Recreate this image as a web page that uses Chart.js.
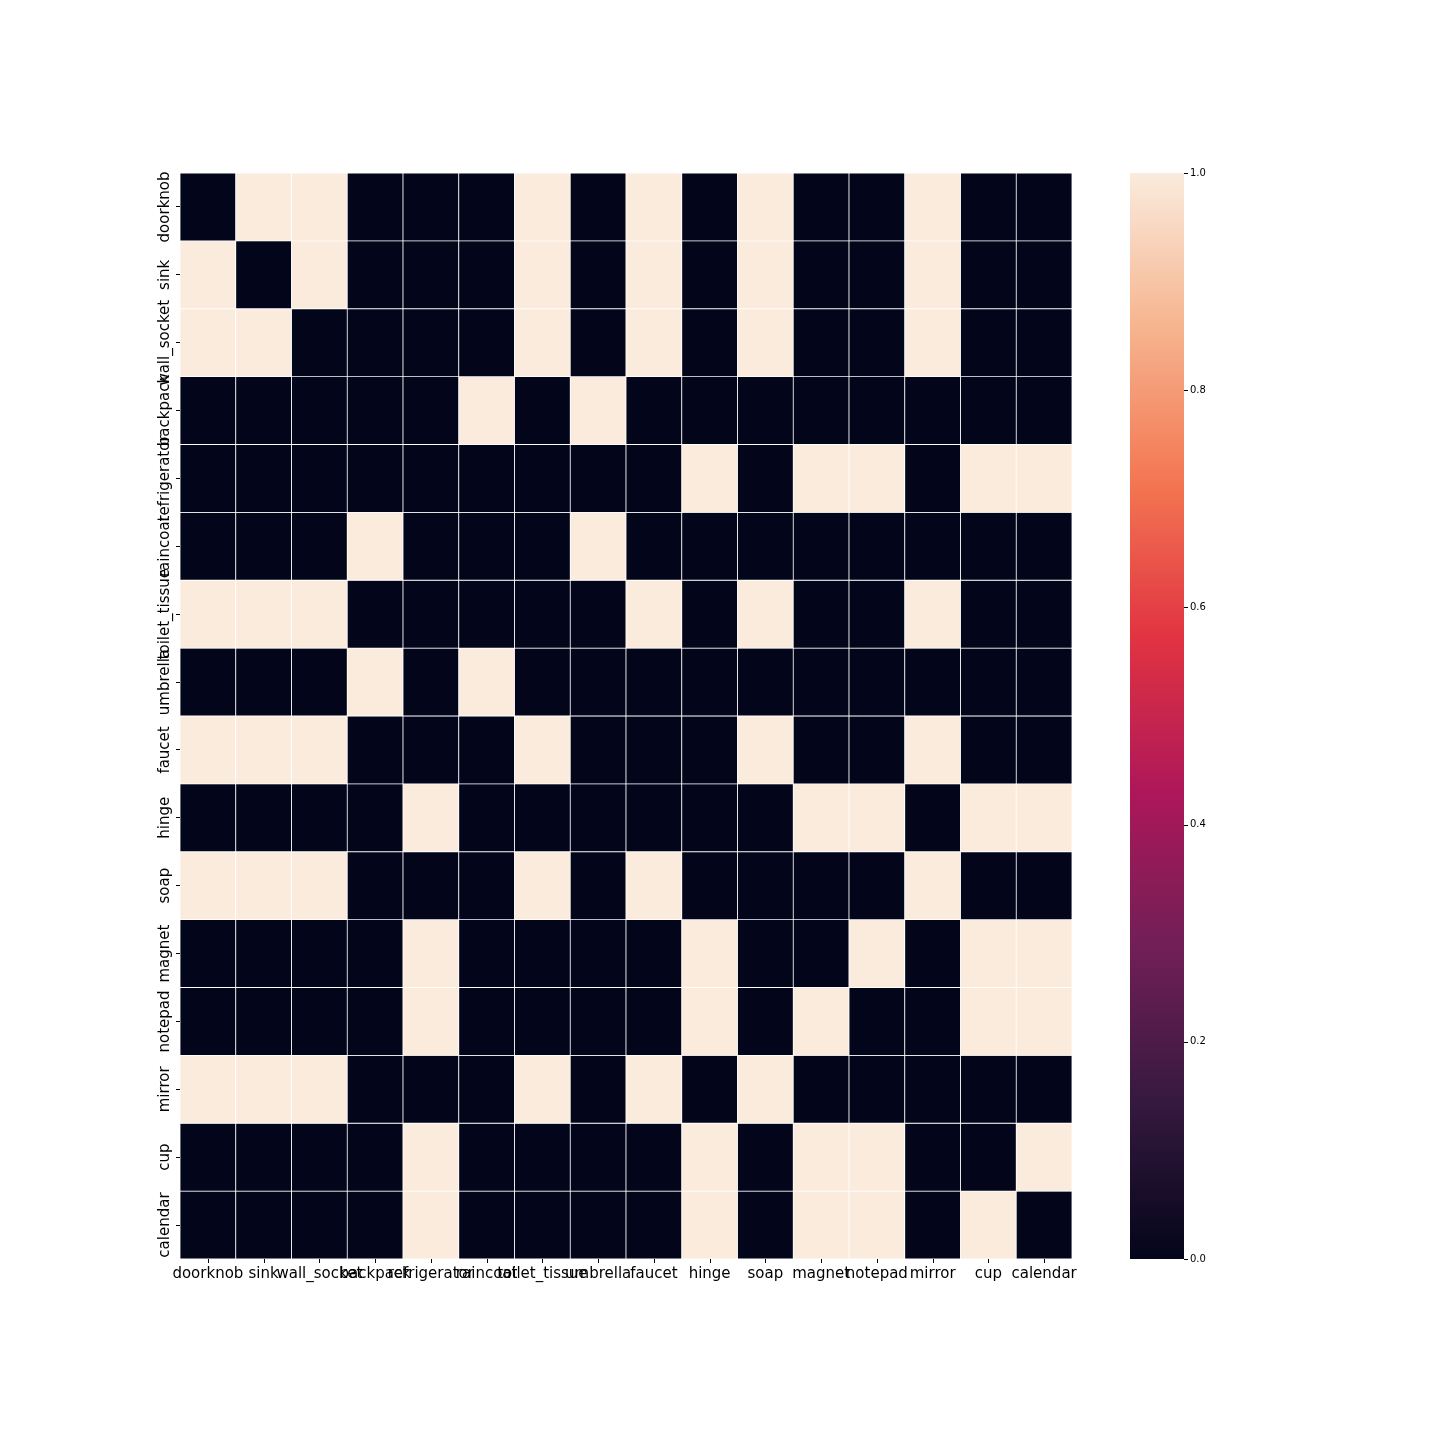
<!DOCTYPE html>
<html>
<head>
<meta charset="utf-8">
<script src="https://cdn.jsdelivr.net/npm/chart.js@4/dist/chart.umd.min.js"></script>
<style>
html,body{margin:0;padding:0;background:#fff;}
canvas{display:block;}
</style>
</head>
<body>
<canvas id="c" width="1440" height="1440"></canvas>
<script>
const categories = ["doorknob","sink","wall_socket","backpack","refrigerator","raincoat","toilet_tissue","umbrella","faucet","hinge","soap","magnet","notepad","mirror","cup","calendar"];

const rows = [
  [0,1,1,0,0,0,1,0,1,0,1,0,0,1,0,0], // doorknob
  [1,0,1,0,0,0,1,0,1,0,1,0,0,1,0,0], // sink
  [1,1,0,0,0,0,1,0,1,0,1,0,0,1,0,0], // wall_socket
  [0,0,0,0,0,1,0,1,0,0,0,0,0,0,0,0], // backpack
  [0,0,0,0,0,0,0,0,0,1,0,1,1,0,1,1], // refrigerator
  [0,0,0,1,0,0,0,1,0,0,0,0,0,0,0,0], // raincoat
  [1,1,1,0,0,0,0,0,1,0,1,0,0,1,0,0], // toilet_tissue
  [0,0,0,1,0,1,0,0,0,0,0,0,0,0,0,0], // umbrella
  [1,1,1,0,0,0,1,0,0,0,1,0,0,1,0,0], // faucet
  [0,0,0,0,1,0,0,0,0,0,0,1,1,0,1,1], // hinge
  [1,1,1,0,0,0,1,0,1,0,0,0,0,1,0,0], // soap
  [0,0,0,0,1,0,0,0,0,1,0,0,1,0,1,1], // magnet
  [0,0,0,0,1,0,0,0,0,1,0,1,0,0,1,1], // notepad
  [1,1,1,0,0,0,1,0,1,0,1,0,0,0,0,0], // mirror
  [0,0,0,0,1,0,0,0,0,1,0,1,1,0,0,1], // cup
  [0,0,0,0,1,0,0,0,0,1,0,1,1,0,1,0]  // calendar
];

const cbarTicks = [0, 0.2, 0.4, 0.6, 0.8, 1.0];

// rocket colormap stops
const rocketStops = [
  [0, "#03051a"], [1/7, "#35193e"], [2/7, "#701f57"], [3/7, "#ad1759"],
  [4/7, "#e13342"], [5/7, "#f37651"], [6/7, "#f6b48f"], [1, "#faebdd"]
];
function hexToRgb(h){return [parseInt(h.slice(1,3),16),parseInt(h.slice(3,5),16),parseInt(h.slice(5,7),16)];}
function rocket(v){
  v = Math.max(0, Math.min(1, v));
  for (let i = 0; i < rocketStops.length - 1; i++) {
    const [p0, c0] = rocketStops[i], [p1, c1] = rocketStops[i+1];
    if (v <= p1) {
      const t = (v - p0) / (p1 - p0);
      const a = hexToRgb(c0), b = hexToRgb(c1);
      return `rgb(${Math.round(a[0]+(b[0]-a[0])*t)},${Math.round(a[1]+(b[1]-a[1])*t)},${Math.round(a[2]+(b[2]-a[2])*t)})`;
    }
  }
  return rocketStops[rocketStops.length-1][1];
}

const FONT = "'DejaVu Sans', sans-serif";

const datasets = rows.map((r, j) => ({
  label: categories[j],
  data: categories.map(() => [j, j + 1]),
  backgroundColor: r.map(v => rocket(v)),
  borderColor: "#ffffff",
  borderWidth: 0.75,
  borderSkipped: false,
  barPercentage: 1,
  categoryPercentage: 1,
  grouped: false
}));

const extras = {
  id: "extras",
  afterDraw(chart) {
    const ctx = chart.ctx;
    const x = chart.scales.x;
    const y = chart.scales.y;
    const y2 = chart.scales.y2;
    const area = chart.chartArea;
    // y labels (rotated)
    ctx.save();
    ctx.fillStyle = "#000";
    ctx.font = "15px " + FONT;
    ctx.textAlign = "center";
    ctx.textBaseline = "middle";
    categories.forEach((c, i) => {
      ctx.save();
      ctx.translate(165, y.getPixelForValue(i + 0.5));
      ctx.rotate(-Math.PI / 2);
      ctx.fillText(c, 0, 0);
      ctx.restore();
    });
    ctx.restore();
    // x tick marks
    ctx.save();
    ctx.strokeStyle = "#000";
    ctx.lineWidth = 1;
    categories.forEach((c, i) => {
      const px = Math.round(x.getPixelForValue(i)) + 0.5;
      ctx.beginPath();
      ctx.moveTo(px, area.bottom);
      ctx.lineTo(px, area.bottom + 4);
      ctx.stroke();
    });
    ctx.restore();
    // colorbar
    const x0 = 1130, x1 = 1184;
    const top = y2.getPixelForValue(1), bot = y2.getPixelForValue(0);
    const g = ctx.createLinearGradient(0, bot, 0, top);
    rocketStops.forEach(([p, c]) => g.addColorStop(p, c));
    ctx.save();
    ctx.fillStyle = g;
    ctx.fillRect(x0, top, x1 - x0, bot - top);
    ctx.strokeStyle = "#000";
    ctx.lineWidth = 1;
    cbarTicks.forEach(v => {
      const py = Math.round(y2.getPixelForValue(v)) + 0.5;
      ctx.beginPath();
      ctx.moveTo(x1, py);
      ctx.lineTo(x1 + 4, py);
      ctx.stroke();
    });
    ctx.restore();
  }
};

new Chart(document.getElementById("c"), {
  type: "bar",
  data: { labels: categories, datasets },
  plugins: [extras],
  options: {
    responsive: false,
    animation: false,
    devicePixelRatio: 1,
    layout: { padding: { left: 120, right: 168, top: 173, bottom: 141 } },
    plugins: { legend: { display: false }, tooltip: { enabled: false } },
    scales: {
      x: {
        type: "category",
        offset: true,
        grid: { display: false, drawTicks: false },
        border: { display: false },
        ticks: { color: "#000", font: { family: FONT, size: 15 }, padding: 6, maxRotation: 0, minRotation: 0, autoSkip: false },
        afterFit: s => { s.height = 40; }
      },
      y: {
        type: "linear",
        min: 0, max: 16,
        reverse: true,
        position: "left",
        afterBuildTicks: s => { s.ticks = categories.map((c, i) => ({ value: i + 0.5 })); },
        grid: { display: true, drawOnChartArea: false, drawTicks: true, tickLength: 4, color: "#000" },
        border: { display: false },
        ticks: { display: false },
        afterFit: s => { s.width = 60; }
      },
      y2: {
        type: "linear",
        min: 0, max: 1,
        position: "right",
        afterBuildTicks: s => { s.ticks = cbarTicks.map(v => ({ value: v })); },
        grid: { display: false },
        border: { display: false },
        ticks: { color: "#000", font: { family: FONT, size: 10 }, padding: 110, callback: v => Number(v).toFixed(1) },
        afterFit: s => { s.width = 200; }
      }
    }
  }
});
</script>
</body>
</html>
